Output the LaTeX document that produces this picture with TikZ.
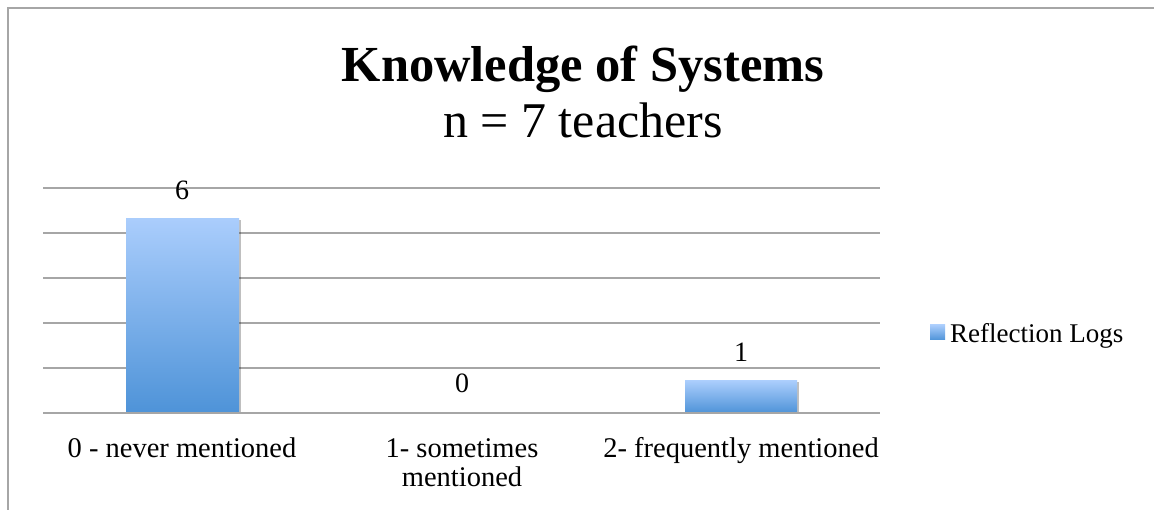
\documentclass[tikz,border=0pt]{standalone}
\usepackage{fontspec}
\setmainfont{Liberation Serif}
\usetikzlibrary{shadows}
\definecolor{gridgray}{HTML}{A6A6A6}
\definecolor{bartop}{HTML}{AACDFC}
\definecolor{barbot}{HTML}{4E93D8}
\tikzset{
  gridline/.style={draw=gridgray, line width=2pt},
  framebox/.style={draw=gridgray, line width=1.6pt},
  barbox/.style={top color=bartop, bottom color=barbot, draw=none,
    drop shadow={shadow xshift=1.5pt, shadow yshift=-1.5pt, opacity=0.25, fill=black}},
  catlabel/.style={anchor=base, inner sep=0pt, font=\fontsize{28.5}{30}\selectfont},
  datalabel/.style={anchor=base, inner sep=0pt, font=\fontsize{28}{30}\selectfont},
  titlelabel/.style={anchor=base, inner sep=0pt, font=\fontsize{50.5}{54}\selectfont\bfseries},
  subtitlelabel/.style={anchor=base, inner sep=0pt, font=\fontsize{50}{54}\selectfont},
  legendlabel/.style={anchor=base west, inner sep=0pt, font=\fontsize{27}{29}\selectfont},
}
\begin{document}
\begin{tikzpicture}[x=1pt, y=-1pt]
\useasboundingbox (0,0) rectangle (1154,510);
\clip (0,0) rectangle (1154,510);
\fill[white] (0,0) rectangle (1154,510);
% frame (only top and left edges fall inside the picture)
\draw[framebox] (8,520) -- (8,8) -- (1170,8);
% gridlines
\foreach \yy in {188,233,278,323,368,413}{
  \draw[gridline] (43,\yy) -- (880,\yy);
}
% bars
\shade[barbox] (126,219) rectangle (239,413);
\shade[barbox] (685,381) rectangle (797,413);
\draw[gridline] (43,413) -- (880,413);
% titles
\node[titlelabel] (title) at (583,82) {Knowledge of Systems};
\node[subtitlelabel] (subtitle) at (583,138) {n = 7 teachers};
% data labels
\node[datalabel] (d1) at (182,200) {6};
\node[datalabel] (d2) at (462,393) {0};
\node[datalabel] (d3) at (741,362) {1};
% category labels
\node[catlabel] (c1) at (182,457) {0 - never mentioned};
\node[catlabel] (c2a) at (462,457) {1- sometimes};
\node[catlabel] (c2b) at (462,486) {mentioned};
\node[catlabel] (c3) at (741,457) {2- frequently mentioned};
% legend
\shade[top color=bartop, bottom color=barbot] (930,325) rectangle (945,340);
\node[legendlabel] (leg) at (950,343) {Reflection Logs};
\end{tikzpicture}
\end{document}
